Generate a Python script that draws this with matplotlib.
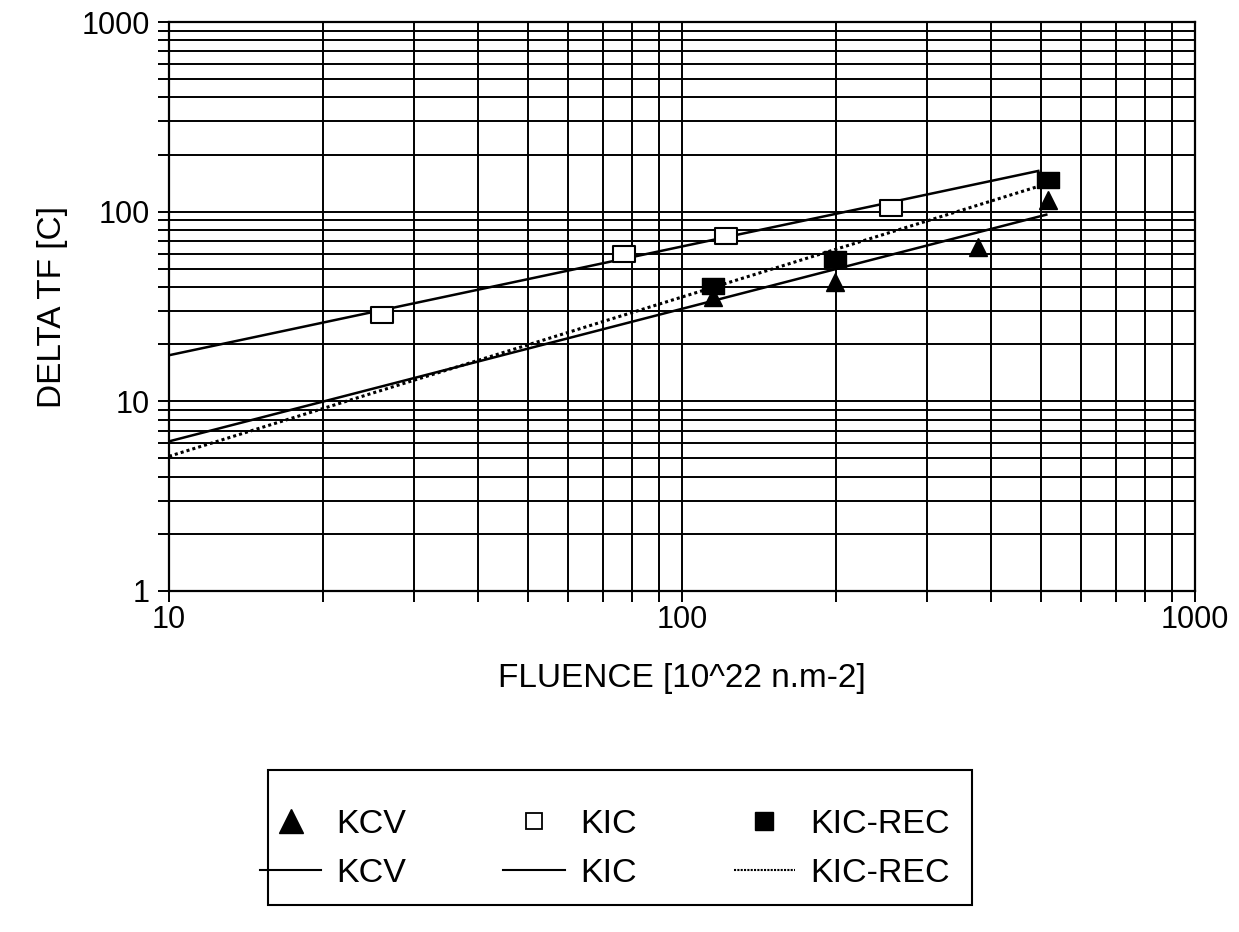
import matplotlib
matplotlib.use("Agg")
import matplotlib.pyplot as plt
from matplotlib.lines import Line2D
from matplotlib.patches import Rectangle
from matplotlib.path import Path

plt.rcParams["font.family"] = ["Liberation Sans", "DejaVu Sans"]

kcv_x = [115, 199, 378, 516]
kcv_y = [35.4, 42.5, 64.9, 115]
kic_x = [26, 77, 122, 256]
kic_y = [28.4, 59.8, 74.8, 104.5]
rec_x = [115, 199, 516]
rec_y = [40.8, 56.4, 147]

# power-law fit lines, end points
kcv_fit_x = [10, 513]
kcv_fit_y = [6.15, 96.4]
kic_fit_x = [10, 495]
kic_fit_y = [17.5, 164]
rec_fit_x = [10, 491]
rec_fit_y = [5.13, 135]

labels = ["KCV", "KIC", "KIC-REC"]

W, H = 1239, 932

# squares in the scan are wider than tall
RECT = Path([(-1.35, -1), (1.35, -1), (1.35, 1), (-1.35, 1), (-1.35, -1)],
            [Path.MOVETO, Path.LINETO, Path.LINETO, Path.LINETO, Path.CLOSEPOLY])

fig = plt.figure(figsize=(W / 100, H / 100), dpi=100)
ax = fig.add_axes([169 / W, 1 - 591 / H, (1195 - 169) / W, (591 - 22) / H])
ax.set_xscale("log"); ax.set_yscale("log")
ax.set_xlim(10, 1000); ax.set_ylim(1, 1000)

ax.grid(True, which="both", color="black", lw=1.4)
ax.set_axisbelow(True)
for s in ax.spines.values():
    s.set_linewidth(1.6)
ax.tick_params(which="both", direction="out", length=8, width=1.4,
               top=False, right=False, labelsize=22)
ax.tick_params(axis="x", pad=2)
ax.tick_params(axis="y", pad=6)
ax.set_xticks([10, 100, 1000], ["10", "100", "1000"])
ax.set_yticks([1, 10, 100, 1000], ["1", "10", "100", "1000"])
ax.minorticks_on()
ax.tick_params(which="minor", labelbottom=False, labelleft=False)

ax.plot(kcv_fit_x, kcv_fit_y, color="black", lw=1.8, zorder=3)
ax.plot(kic_fit_x, kic_fit_y, color="black", lw=1.8, zorder=3)
ax.plot(rec_fit_x, rec_fit_y, color="black", lw=2.2, ls=(0, (1, 1)), zorder=3)

ax.plot(kcv_x, kcv_y, ls="none", marker="^", ms=13, color="black", zorder=4)
ax.plot(kic_x, kic_y, ls="none", marker=RECT, ms=16, mfc="white", mec="black",
        mew=1.5, zorder=4)
ax.plot(rec_x, rec_y, ls="none", marker=RECT, ms=16, color="black", zorder=5)

ax.set_xlabel("FLUENCE [10^22 n.m-2]", fontsize=24)
ax.xaxis.set_label_coords(0.5, (591 - 663) / (591 - 22))
ax.set_ylabel("DELTA TF [C]", fontsize=24)
ax.yaxis.set_label_coords((68 - 169) / (1195 - 169), 0.5)

handles = [
    Line2D([], [], ls="none", marker="^", ms=17, color="black"),
    Line2D([], [], color="black", lw=1.5),
    Line2D([], [], ls="none", marker="s", ms=12, mfc="white", mec="black", mew=1.3),
    Line2D([], [], color="black", lw=1.5),
    Line2D([], [], ls="none", marker="s", ms=13, color="black"),
    Line2D([], [], color="black", lw=1.5, ls=(0, (1, 0.6))),
]
names = [labels[0], labels[0], labels[1], labels[1], labels[2], labels[2]]
leg = fig.legend(handles, names, ncol=3, loc="center left",
                 bbox_to_anchor=(260 / W, 1 - 849 / H), fontsize=24.5,
                 frameon=False, handlelength=1.8, handletextpad=0.45,
                 columnspacing=2.85, labelspacing=0.52, borderpad=0,
                 borderaxespad=0, numpoints=1)
# legend box as drawn in the original
fig.patches.append(Rectangle((268 / W, 1 - 905 / H), 704 / W, 135 / H,
                             transform=fig.transFigure, fill=False,
                             edgecolor="black", lw=1.5))

fig.savefig("out.png", dpi=100)
